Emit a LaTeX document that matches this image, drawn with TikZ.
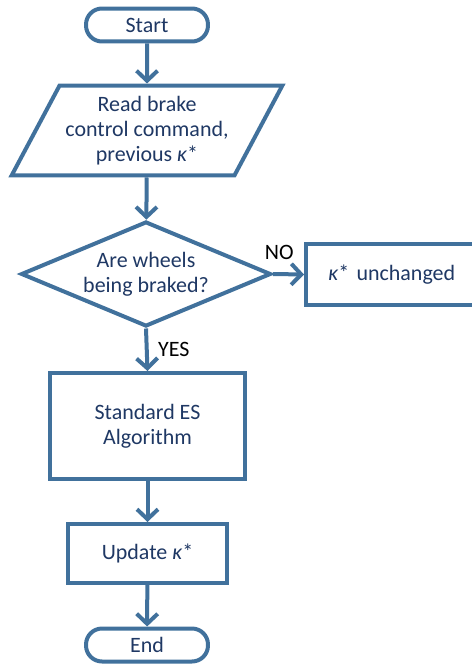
\documentclass[tikz,border=0pt]{standalone}
\usepackage{fontspec}
\setmainfont{Carlito}
\usepackage{tikz}
\usetikzlibrary{arrows.meta, positioning, shapes.geometric}
\usepackage{xcolor}
\definecolor{flowblue}{RGB}{65,113,156}
\definecolor{flowtext}{RGB}{31,56,100}
\tikzset{%
	every flowbox/.style={
		draw=flowblue,
		line width=0.08cm,
		text=flowtext,
		align=center,
		font=\fontsize{12.5}{14.4}\selectfont
	},
	terminal/.style={
		every flowbox,
		rectangle,
		rounded corners=0.32cm,
		minimum width=2.44cm,
		minimum height=0.66cm
	},
	iobox/.style={
		every flowbox,
		trapezium,
		trapezium left angle=59.4,
		trapezium right angle=120.6,
		trapezium stretches=true,
		minimum width=5.4cm,
		minimum height=1.8cm
	},
	decision/.style={
		every flowbox,
		diamond,
		aspect=2.36,
		inner sep=0pt,
		minimum width=5.0cm,
		minimum height=2.1cm
	},
	process/.style={
		every flowbox,
		rectangle
	},
	flowarrow/.style={
		draw=flowblue,
		line width=0.08cm,
		-{Straight Barb[length=0.2cm,width=0.42cm]}
	},
	answer/.style={
		text=black,
		font=\fontsize{12.5}{14.4}\selectfont
	},
}
\newcommand{\kstar}{{\itshape κ}*}

\begin{document}
\begin{tikzpicture}[x=0.02cm,y=-0.02cm]
	\useasboundingbox (0,0) rectangle (472,666);
	\clip (0,0) rectangle (472,666);

	% Draw the start and end terminals
	\node[terminal] (start) at (147,25) {Start};
	\node[terminal] (end) at (147,645) {End};

	% Draw the input step
	\node[iobox] (read) at (147,130.5) {Read brake\\control command,\\previous \kstar};

	% Draw the decision (the box on the right runs off the page)
	\node[decision] (braked) at (146,274) {Are wheels\\being braked?};
	\node[process, anchor=west, minimum height=1.22cm, text width=4.4cm, align=left] (unchanged) at (304,274.5) {\hspace{0.33cm}\kstar\ unchanged};

	% Draw the processing steps
	\node[process, minimum width=3.9cm, minimum height=2.12cm] (algo) at (147.5,426) {Standard ES\\Algorithm};
	\node[process, minimum width=3.18cm, minimum height=1.18cm] (update) at (147.5,553.5) {Update \kstar};

	% Draw arrows between the steps
	\draw[flowarrow] (start) -- (read);
	\draw[flowarrow] (read) -- (braked);
	\draw[flowarrow] (braked.east) -- node[answer, above=4pt, pos=0.2] {NO} (unchanged.west);
	\draw[flowarrow] (braked.south) -- node[answer, right=2pt] {YES} (algo.north);
	\draw[flowarrow] (algo) -- (update);
	\draw[flowarrow] (update) -- (end);
\end{tikzpicture}
\end{document}
